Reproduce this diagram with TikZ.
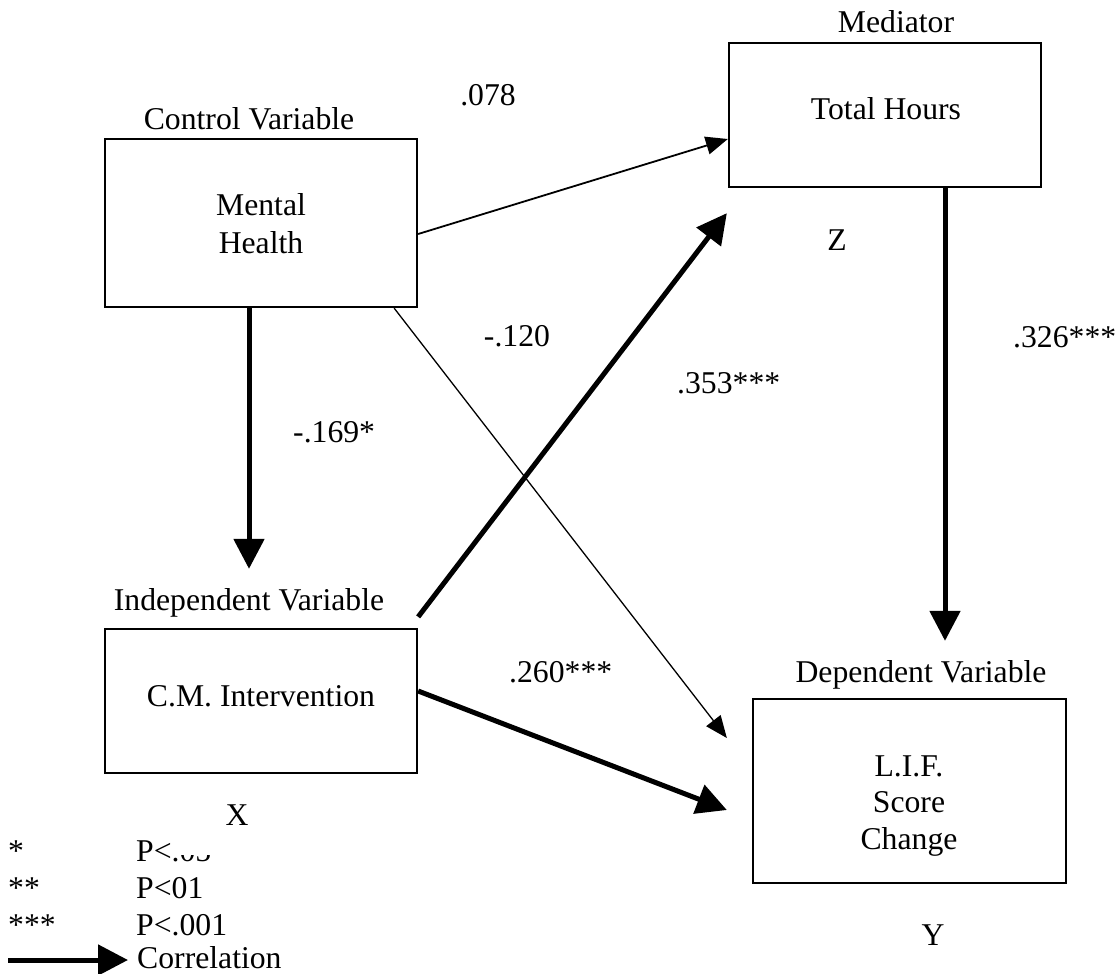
\documentclass[tikz,border=0pt]{standalone}
\usepackage{fontspec}
\setmainfont{Liberation Serif}
\usetikzlibrary{arrows.meta,calc}
\tikzset{
  boxnode/.style={draw, line width=2.3pt, minimum width=312pt, inner sep=0pt},
  txt/.style={font=\fontsize{31.7}{38}\selectfont, inner sep=0pt, anchor=base},
  txtl/.style={txt, anchor=base west},
  thinarrow/.style={line width=1.8pt, -{Triangle[length=22pt,width=18pt]}},
  hairarrow/.style={line width=1.3pt, -{Triangle[length=22pt,width=18pt]}},
  thickarrow/.style={line width=5pt, -{Triangle[length=30pt,width=30pt]}}
}
\begin{document}
\begin{tikzpicture}[x=1pt,y=-1pt]
\useasboundingbox (0,0) rectangle (1119,974);
% boxes
\node[boxnode, minimum height=144pt] (th) at (885,115) {};
\node[boxnode, minimum height=168pt] (mh) at (261,223) {};
\node[boxnode, minimum height=144pt] (cm) at (261,701) {};
\node[boxnode, minimum width=313pt, minimum height=184pt] (lif) at (909.5,791) {};
% box texts
\node[txt] (thtxt) at (886,119) {Total Hours};
\node[txt] (mh1) at (261,215) {Mental};
\node[txt] (mh2) at (261,253) {Health};
\node[txt] (cmtxt) at (261,706) {C.M. Intervention};
\node[txt] (lif1) at (909,776) {L.I.F.};
\node[txt] (lif2) at (909,812) {Score};
\node[txt] (lif3) at (909,849) {Change};
% role labels
\node[txt] (medl) at (896,33) {Mediator};
\node[txt] (ctrl) at (249,129) {Control Variable};
\node[txt] (indl) at (249,610) {Independent Variable};
\node[txt] (depl) at (921,682) {Dependent Variable};
\node[txt] (zl) at (837,250) {Z};
\node[txt] (xl) at (237,825) {X};
\node[txt] (yl) at (933,945) {Y};
% coefficients
\node[txt] (c078) at (488,106) {.078};
\node[txt] (c120) at (517,346) {-.120};
\node[txtl] (c326) at (1013,347) {.326***};
\node[txtl] (c353) at (677,393) {.353***};
\node[txtl] (c169) at (293,442) {-.169*};
\node[txtl] (c260) at (509,682) {.260***};
% connectors
\draw[thinarrow] ($(mh.east)+(0,11)$) -- ($(th.west)+(0,24)$);
\draw[hairarrow] ($(mh.south east)+(-24,0)$) -- ($(lif.west)+(-25,-53)$);
\draw[thickarrow] ($(mh.south)+(-12,0)$) -- ($(cm.north)+(-12,-59)$);
\draw[thickarrow] ($(cm.north east)+(0,-11)$) -- ($(th.south west)+(-1,25)$);
\draw[thickarrow] ($(cm.east)+(0,-10)$) -- ($(lif.west)+(-25,19)$);
\draw[thickarrow] ($(th.south)+(60,0)$) -- ($(lif.north)+(35.5,-57)$);
% legend
\node[txtl] (s1) at (8,861) {*};
\node[txtl] (p1) at (136,861) {P<.05};
\fill[white] (171,834) rectangle (214,855);
\node[txtl] (s2) at (8,898) {**};
\node[txtl] (p2) at (136,898) {P<01};
\node[txtl] (s3) at (8,935) {***};
\node[txtl] (p3) at (136,935) {P<.001};
\coordinate (lga) at (8,960);
\coordinate (lgb) at (128,960);
\draw[thickarrow] (lga) -- (lgb);
\node[txtl] (corr) at (137,968) {Correlation};
\end{tikzpicture}
\end{document}
